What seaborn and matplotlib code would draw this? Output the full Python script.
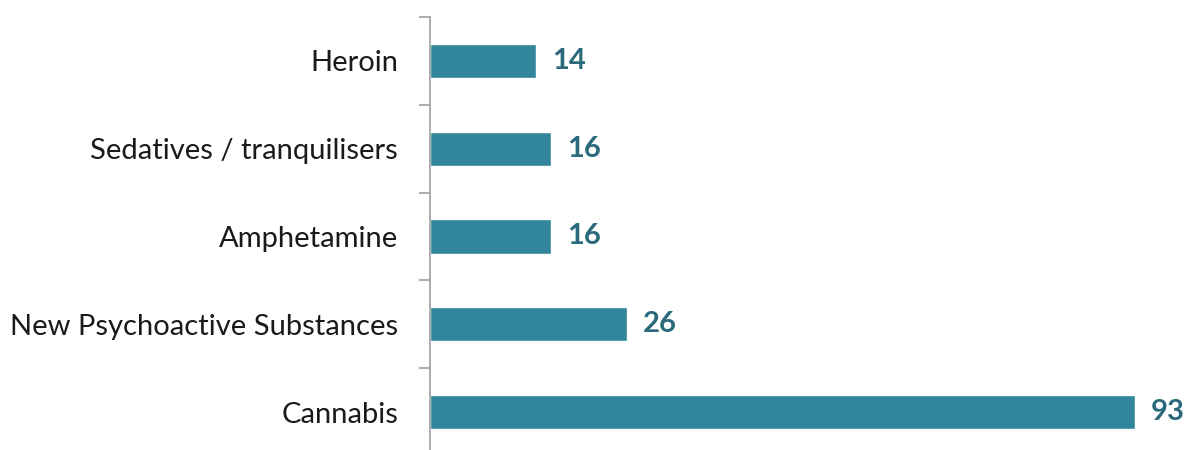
import matplotlib
matplotlib.use("Agg")
import matplotlib.pyplot as plt
import seaborn as sns
import pandas as pd

substances = ["Heroin", "Sedatives / tranquilisers", "Amphetamine",
              "New Psychoactive Substances", "Cannabis"]
counts = [14, 16, 16, 26, 93]

bar_color = "#31869B"
value_color = "#2B6A7B"

sns.set_theme(style="white")
plt.rcParams["font.family"] = ["Lato", "DejaVu Sans"]

df = pd.DataFrame({"substance": substances, "count": counts})

fig = plt.figure(figsize=(11.88, 4.5), dpi=100)
ax = fig.add_axes([430 / 1188, -6 / 450, 1 - 430 / 1188, 439 / 450])

sns.barplot(data=df, y="substance", x="count", orient="h", color=bar_color,
            width=0.39, saturation=1, ax=ax)

ax.set_xlim(0, 100)
ax.set_ylim(len(substances) - 0.5, -0.5)
ax.set_xlabel("")
ax.set_ylabel("")
ax.set_xticks([])

for s in ["top", "right", "bottom"]:
    ax.spines[s].set_visible(False)
ax.spines["left"].set_color("#A6A6A6")
ax.spines["left"].set_linewidth(1.3)

# category labels without marks, boundary ticks between categories
ax.tick_params(axis="y", which="major", left=True, length=0, pad=23,
               labelsize=21, labelcolor="#1A1A1A")
ax.set_yticks([i - 0.5 for i in range(len(substances) + 1)], minor=True)
ax.tick_params(axis="y", which="minor", left=True, length=8, width=1.3,
               color="#A6A6A6", direction="out")

for i, v in enumerate(counts):
    ax.text(v + 2.1, i, f"{v}", va="center", ha="left", fontsize=21,
            fontweight="bold", color=value_color)

fig.savefig("out.png", dpi=100)
